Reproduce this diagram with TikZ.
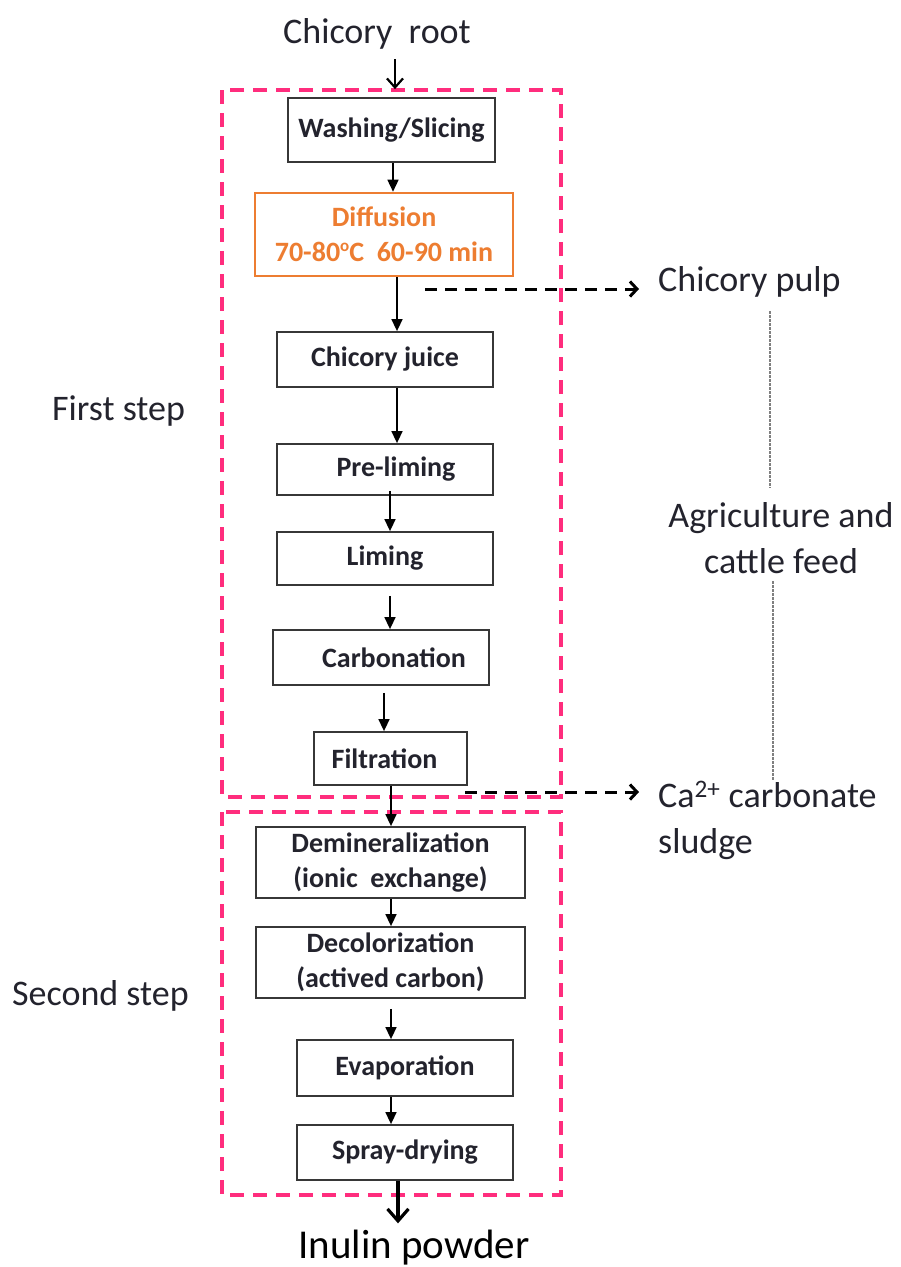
\documentclass[tikz,border=0pt]{standalone}
\usepackage{fontspec}
\setmainfont{Carlito}
\usetikzlibrary{arrows.meta}
\definecolor{pinkc}{RGB}{255,45,125}
\definecolor{orangec}{RGB}{237,125,49}
\definecolor{txt}{RGB}{35,35,45}
\definecolor{boxline}{RGB}{55,55,55}
\tikzset{
  stepbox/.style={draw=boxline, line width=1.8pt, inner sep=0pt, align=center,
    font=\fontsize{28}{35}\selectfont\bfseries, text=txt},
  lbl/.style={font=\fontsize{36}{46}\selectfont, text=txt, inner sep=0pt},
  arr/.style={draw=black, line width=1.5pt, -{Triangle[length=12pt,width=11pt]}},
  openarr/.style={draw=black, line width=2.2pt, -{Straight Barb[length=9pt,width=16pt,line width=2.2pt]}},
  bigarr/.style={draw=black, line width=3.2pt, -{Straight Barb[length=12pt,width=21pt,line width=3.2pt]}},
  dasharr/.style={draw=black, line width=3pt, dash pattern=on 12pt off 8pt,
    -{Straight Barb[length=7pt,width=15pt,line width=3pt]}},
  pinkframe/.style={draw=pinkc, line width=3.5pt, dash pattern=on 14pt off 9pt},
  dotline/.style={draw=gray, line width=1.3pt, dash pattern=on 2.5pt off 1.5pt}
}
\begin{document}
\begin{tikzpicture}[x=1pt,y=-1pt]
\fill[white] (0,0) rectangle (901,1267);
\useasboundingbox (0,0) rectangle (901,1267);

% x columns for connectors
\coordinate (x384) at (384,0);
\coordinate (x390) at (390,0);
\coordinate (x391) at (391,0);
\coordinate (x393) at (393,0);
\coordinate (x395) at (395,0);
\coordinate (x397) at (397,0);
\coordinate (x398) at (398,0);
\coordinate (x770) at (770,0);
\coordinate (x773) at (773,0);

% frames
\draw[pinkframe] (222,90) rectangle (561,797);
\draw[pinkframe] (222,812) rectangle (561,1195);

% labels
\node[lbl, anchor=base] (root) at (377,43) {Chicory\ \ root};
\node[lbl, anchor=base west] (first) at (52,420) {First step};
\node[lbl, anchor=base west] (second) at (12,1005) {Second step};
\node[lbl, anchor=base west] (pulp) at (658,291) {Chicory pulp};
\node[lbl, anchor=base, align=center] (agri) at (781,573) {Agriculture and\\cattle feed};
\node[lbl, anchor=base west, align=left] (ca) at (658,853) {Ca\textsuperscript{2+} carbonate\\sludge};
\node[inner sep=0pt, font=\fontsize{41}{48}\selectfont, text=black, anchor=base] (inulin) at (414,1258) {Inulin powder};

% steps
\node[stepbox, minimum width=207pt, minimum height=64pt] (wash) at (391.5,130) {Washing/Slicing};
\node[stepbox, draw=orangec, line width=2.6pt, text=orangec, minimum width=258pt, minimum height=83pt] (diff) at (384,234.5)
  {Diffusion\\70-80\raisebox{0.35em}{\fontsize{17}{17}\selectfont o}C\ \ 60-90 min};
\node[stepbox, minimum width=216pt, minimum height=55pt] (juice) at (385,359.5) {Chicory juice};
\node[stepbox, minimum width=216pt, minimum height=51pt] (prelim) at (385,469.5) {\hspace*{22pt}Pre-liming};
\node[stepbox, minimum width=216pt, minimum height=53pt] (liming) at (385,558.5) {Liming};
\node[stepbox, minimum width=216pt, minimum height=55pt] (carb) at (381,657.5) {\hspace*{26pt}Carbonation};
\node[stepbox, minimum width=153pt, minimum height=53pt] (filt) at (390.5,758.5) {Filtration\hspace*{12pt}};
\node[stepbox, minimum width=269pt, minimum height=71pt] (demin) at (390.5,862.5) {Demineralization\\(ionic\ \ exchange)};
\node[stepbox, minimum width=269pt, minimum height=71pt] (decol) at (390.5,962.5) {Decolorization\\(actived carbon)};
\node[stepbox, minimum width=216pt, minimum height=56pt] (evap) at (405,1068) {Evaporation};
\node[stepbox, minimum width=216pt, minimum height=55pt] (spray) at (405,1152.5) {Spray-drying};

% main flow
\draw[openarr, shorten <=10pt, shorten >=8pt] (root.south -| x395) -- (wash.north -| x395);
\draw[arr] (wash.south -| x393) -- (diff.north -| x393);
\draw[arr] (diff.south -| x397) -- (juice.north -| x397);
\draw[arr] (juice.south -| x397) -- (prelim.north -| x397);
\draw[arr, shorten <=-5pt] (prelim.south -| x390) -- (liming.north -| x390);
\draw[arr, shorten <=10pt] (liming.south -| x390) -- (carb.north -| x390);
\draw[arr, shorten <=7pt] (carb.south -| x384) -- (filt.north -| x384);
\draw[arr] (filt.south -| x391) -- (demin.north -| x391);
\draw[arr] (demin.south -| x391) -- (decol.north -| x391);
\draw[arr, shorten <=10pt] (decol.south -| x391) -- (evap.north -| x391);
\draw[arr] (evap.south -| x391) -- (spray.north -| x391);
\draw[bigarr, shorten >=6pt] (spray.south -| x398) -- (inulin.north -| x398);

% by-products
\coordinate (pulpsrc) at (425,289);
\coordinate (casrc) at (465,792);
\draw[dasharr, shorten >=19pt] (pulpsrc) -- (pulpsrc -| pulp.west);
\draw[dasharr, shorten >=19pt] (casrc) -- (casrc -| ca.west);
\draw[dotline, shorten <=14pt, shorten >=14pt] (pulp.south -| x770) -- (agri.north -| x770);
\draw[dotline, shorten <=8pt] (agri.south -| x773) -- (ca.north -| x773);
\end{tikzpicture}
\end{document}
